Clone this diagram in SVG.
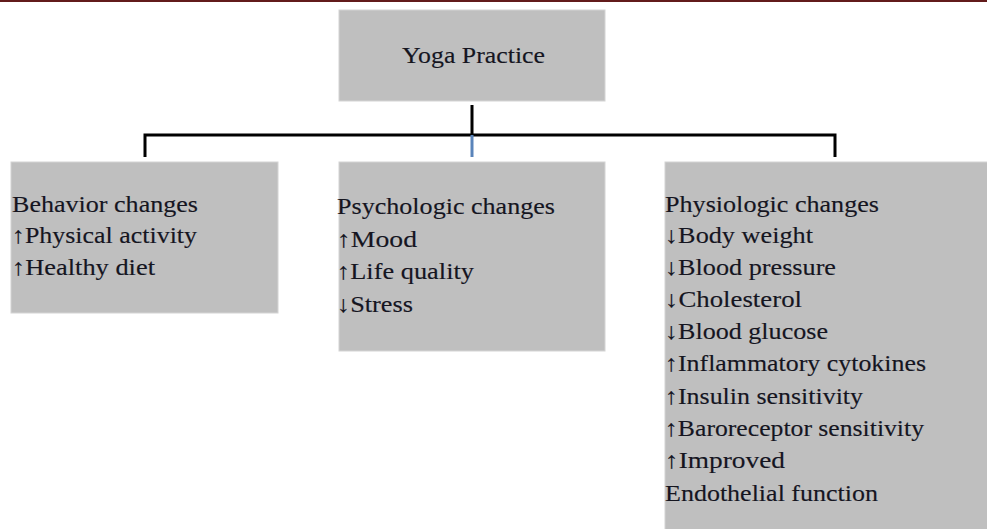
<svg xmlns="http://www.w3.org/2000/svg" width="987" height="529" viewBox="0 0 987 529">
<style>
.box{fill:#bfbfbf;stroke:#d4d4d4;stroke-width:1}
.t{font-family:"Liberation Serif","Times New Roman",serif;font-size:23.5px;fill:#15151f;stroke:#15151f;stroke-width:0.15}
.ln{stroke:#000;stroke-width:3;fill:none}
</style>
<rect x="0" y="0" width="987" height="2" fill="#621b1b"/>
<g id="connectors">
<path class="ln" d="M472,105 V135 M145,157 V135 H835 V157"/>
<line x1="472" y1="135" x2="472" y2="157" stroke="#5a84ba" stroke-width="3"/>
</g>
<g id="yoga">
<rect class="box" x="339" y="10" width="266" height="91"/>
<text class="t" x="402" y="63" textLength="143" lengthAdjust="spacingAndGlyphs">Yoga Practice</text>
</g>
<g id="behavior">
<rect class="box" x="11" y="162" width="267" height="151"/>
<text class="t" x="12" y="212" textLength="186" lengthAdjust="spacingAndGlyphs">Behavior changes</text>
<text class="t" x="12" y="243" textLength="185" lengthAdjust="spacingAndGlyphs">↑Physical activity</text>
<text class="t" x="12" y="275" textLength="143" lengthAdjust="spacingAndGlyphs">↑Healthy diet</text>
</g>
<g id="psychologic">
<rect class="box" x="339" y="162" width="266" height="189"/>
<text class="t" x="337" y="214" textLength="218" lengthAdjust="spacingAndGlyphs">Psychologic changes</text>
<text class="t" x="337" y="247" textLength="80" lengthAdjust="spacingAndGlyphs">↑Mood</text>
<text class="t" x="337" y="279" textLength="137" lengthAdjust="spacingAndGlyphs">↑Life quality</text>
<text class="t" x="337" y="312" textLength="76" lengthAdjust="spacingAndGlyphs">↓Stress</text>
</g>
<g id="physiologic">
<rect class="box" x="665" y="162" width="323" height="368"/>
<text class="t" x="665" y="212" textLength="214" lengthAdjust="spacingAndGlyphs">Physiologic changes</text>
<text class="t" x="665" y="243" textLength="148" lengthAdjust="spacingAndGlyphs">↓Body weight</text>
<text class="t" x="665" y="275" textLength="171" lengthAdjust="spacingAndGlyphs">↓Blood pressure</text>
<text class="t" x="665" y="307" textLength="137" lengthAdjust="spacingAndGlyphs">↓Cholesterol</text>
<text class="t" x="665" y="339" textLength="163" lengthAdjust="spacingAndGlyphs">↓Blood glucose</text>
<text class="t" x="665" y="371" textLength="261" lengthAdjust="spacingAndGlyphs">↑Inflammatory cytokines</text>
<text class="t" x="665" y="404" textLength="198" lengthAdjust="spacingAndGlyphs">↑Insulin sensitivity</text>
<text class="t" x="665" y="436" textLength="259" lengthAdjust="spacingAndGlyphs">↑Baroreceptor sensitivity</text>
<text class="t" x="665" y="468" textLength="120" lengthAdjust="spacingAndGlyphs">↑Improved</text>
<text class="t" x="665" y="501" textLength="213" lengthAdjust="spacingAndGlyphs">Endothelial function</text>
</g>
</svg>
